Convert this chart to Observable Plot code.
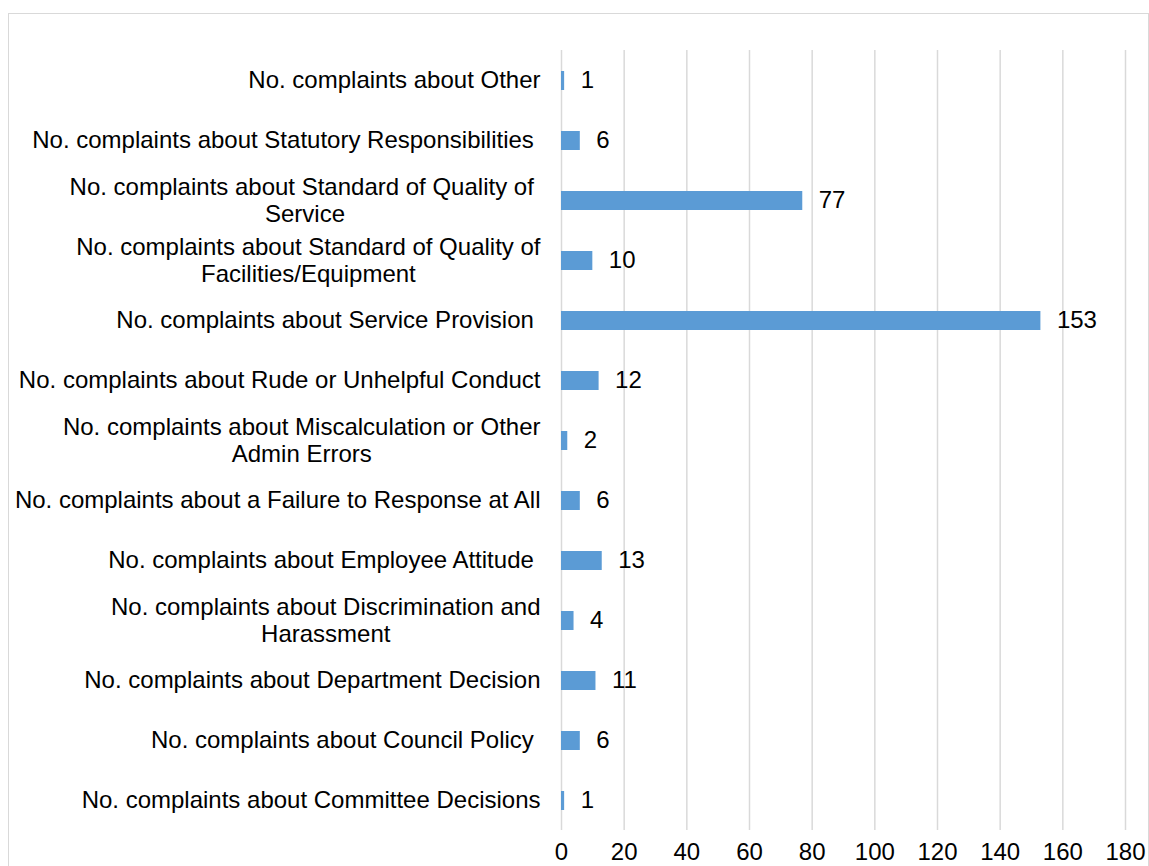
<!DOCTYPE html>
<html><head><meta charset="utf-8">
<script src="https://cdn.jsdelivr.net/npm/d3@7"></script>
<script src="https://cdn.jsdelivr.net/npm/@observablehq/plot@0.6"></script>
<style>
html,body{margin:0;padding:0;background:#fff;overflow:hidden;width:1149px;height:866px;}
#frame{position:absolute;left:8px;top:13px;width:1139px;height:900px;border:1.5px solid #d9d9d9;box-sizing:content-box;}
#chart{position:absolute;left:0;top:0;}
#chart svg text{white-space:pre;}
</style></head><body>
<div id="frame"></div><div id="chart"></div>
<script>
const categories = [
  "No. complaints about Other",
  "No. complaints about Statutory Responsibilities ",
  "No. complaints about Standard of Quality of \nService",
  "No. complaints about Standard of Quality of\nFacilities/Equipment",
  "No. complaints about Service Provision ",
  "No. complaints about Rude or Unhelpful Conduct",
  "No. complaints about Miscalculation or Other\nAdmin Errors",
  "No. complaints about a Failure to Response at All",
  "No. complaints about Employee Attitude ",
  "No. complaints about Discrimination and\nHarassment",
  "No. complaints about Department Decision",
  "No. complaints about Council Policy ",
  "No. complaints about Committee Decisions"
];
const counts = [1, 6, 77, 10, 153, 12, 2, 6, 13, 4, 11, 6, 1];
const xTicks = [0, 20, 40, 60, 80, 100, 120, 140, 160, 180];

const data = categories.map((c, i) => ({category: c, count: counts[i]}));

const chart = Plot.plot({
  width: 1149, height: 866,
  marginLeft: 561, marginRight: 24, marginTop: 50, marginBottom: 36,
  style: {fontFamily: '"Liberation Sans", Arial, sans-serif', fontSize: "24px", color: "#000", background: "transparent", overflow: "visible"},
  x: {domain: [0, 180], ticks: xTicks},
  y: {domain: categories, paddingInner: 0.69, paddingOuter: 0.345},
  marks: [
    Plot.gridX(xTicks, {stroke: "#d9d9d9", strokeOpacity: 1, strokeWidth: 1.5}),
    Plot.barX(data, {x: "count", y: "category", fill: "#5b9bd5"}),
    Plot.text(data, {x: "count", y: "category", text: d => String(d.count), textAnchor: "start", dx: 16, dy: -0.5, fill: "#000", fontSize: 24}),
    Plot.axisX({ticks: xTicks, tickSize: 0, tickPadding: 12, fontSize: 24, label: null}),
    Plot.axisY({tickSize: 0, tickPadding: 21, dy: -1, fontSize: 24, lineHeight: 1.1, label: null})
  ]
});
document.getElementById("chart").appendChild(chart);

// centre the lines of wrapped category labels within their block
chart.querySelectorAll('g[aria-label="y-axis tick label"] text').forEach(t => {
  const spans = t.querySelectorAll("tspan");
  if (spans.length > 1) {
    let max = 0;
    spans.forEach(s => { max = Math.max(max, s.getComputedTextLength()); });
    t.setAttribute("text-anchor", "middle");
    spans.forEach(s => s.setAttribute("x", -max / 2));
  }
});
</script>
</body></html>
